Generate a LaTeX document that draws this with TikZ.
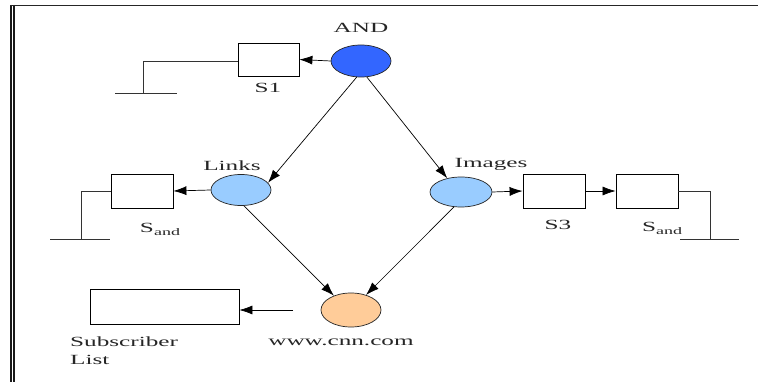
\documentclass[tikz,border=0pt]{standalone}
\usepackage{fontspec}
\usetikzlibrary{arrows.meta,shapes.geometric}
\newfontfamily\diagfont[FakeStretch=1.8]{Liberation Serif}
\definecolor{andblue}{HTML}{3366FF}
\definecolor{pageblue}{HTML}{99CCFF}
\definecolor{siteorange}{HTML}{FFCC99}
\begin{document}
\begin{tikzpicture}[x=1pt,y=-1pt,
  every node/.style={font=\diagfont\fontsize{14}{16}\selectfont,text=black!85},
  place/.style={ellipse,draw=black!85,line width=0.7pt,inner sep=0pt},
  filterbox/.style={rectangle,draw=black,line width=0.8pt,inner sep=0pt,
    minimum width=62pt,minimum height=34pt},
  flow/.style={-{Latex[length=13pt,width=9pt]},line width=0.7pt,black},
  wire/.style={line width=0.8pt,black!80},
  lbl/.style={inner sep=0pt}]
\useasboundingbox (0,0) rectangle (758,382);
\fill[white] (0,0) rectangle (758,382);
% page frame: double rule on the left, single rule along the top
\draw[line width=1.6pt,black!90] (11,5) -- (11,382);
\draw[line width=1.6pt,black!90] (14,5) -- (14,382);
\draw[line width=1.2pt,black!85] (10,5.5) -- (758,5.5);

% places
\node[place,fill=andblue,minimum width=60pt,minimum height=32pt] (and) at (361,61) {};
\node[place,fill=pageblue,minimum width=60pt,minimum height=31pt] (links) at (241,190) {};
\node[place,fill=pageblue,minimum width=62pt,minimum height=30pt] (images) at (461,192) {};
\node[place,fill=siteorange,minimum width=60pt,minimum height=34pt] (cnn) at (351,310) {};

% filter boxes
\node[filterbox,minimum width=61pt,minimum height=33pt] (s1) at (268.5,59.5) {};
\node[filterbox] (sandL) at (142,191) {};
\node[filterbox] (s3) at (554,191) {};
\node[filterbox] (sandR) at (647,191) {};
\node[filterbox,minimum width=149pt,minimum height=35pt] (sub) at (164.5,306.5) {};

% labels
\node[lbl] (tand) at (361,28) {AND};
\node[lbl] (ts1) at (268,88) {S1};
\node[lbl] (tlinks) at (232,166) {Links};
\node[lbl] (timages) at (491,164) {Images};
\node[lbl] (tsandL) at (160,229) {S\raisebox{-3pt}{\fontsize{10}{10}\selectfont and}};
\node[lbl] (ts3) at (558,225) {S3};
\node[lbl] (tsandR) at (662,228) {S\raisebox{-3pt}{\fontsize{10}{10}\selectfont and}};
\node[lbl] (tcnn) at (341,342) {www.cnn.com};
\node[lbl,anchor=west] (tsub) at (70,342) {Subscriber};
\node[lbl,anchor=west] (tlist) at (70,360) {List};

% flow of events
\draw[flow] (and.west) -- (s1.east);
\draw[flow] (and.255) -- (links.15);
\draw[flow] (and.290) -- (images.135);
\draw[flow] (links.west) -- (sandL.east);
\draw[flow] (images.east) -- (s3.west);
\draw[flow] (s3.east) -- (sandR.west);
\draw[flow] (links.280) -- (cnn.140);
\draw[flow] (images.245) -- (cnn.45);
\coordinate (feed) at (293,310);
\draw[flow] (feed) -- (sub.east |- feed);

% ground-style terminations
\coordinate (g1) at (143,93);
\coordinate (g1a) at (115,93);
\coordinate (g1b) at (177,93);
\draw[wire] (s1.west |- 0,61) -| (g1);
\draw[wire] (g1a) -- (g1b);
\coordinate (g2) at (81,239);
\coordinate (g2a) at (50,239);
\coordinate (g2b) at (110,239);
\draw[wire] (sandL.west) -| (g2);
\draw[wire] (g2a) -- (g2b);
\coordinate (g3) at (710,239);
\coordinate (g3a) at (680,239);
\coordinate (g3b) at (739,239);
\draw[wire] (sandR.east) -| (g3);
\draw[wire] (g3a) -- (g3b);
\end{tikzpicture}
\end{document}
